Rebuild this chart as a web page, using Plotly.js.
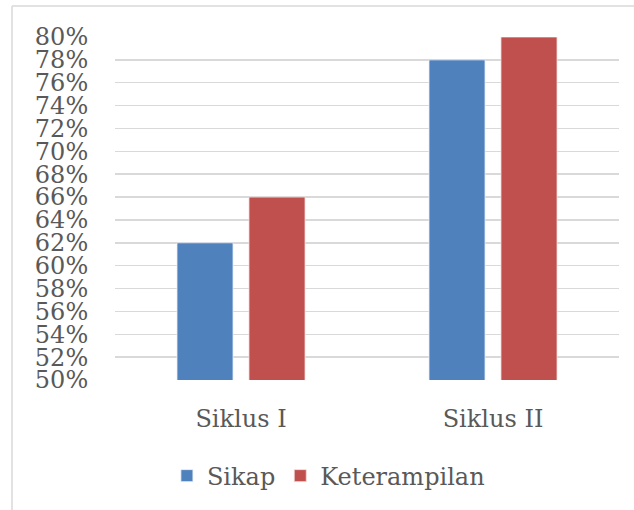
<!DOCTYPE html>
<html>
<head>
<meta charset="utf-8">
<script src="https://cdn.plot.ly/plotly-3.0.1.min.js"></script>
<style>
html,body{margin:0;padding:0;background:#fff;}
#chart{width:634px;height:510px;}
</style>
</head>
<body>
<div id="chart"></div>
<script>
var categories = ["Siklus I", "Siklus II"];
var sikap = [0.62, 0.78];
var keterampilan = [0.66, 0.80];
var seriesNames = ["Sikap", "Keterampilan"];
var yTickVals = [0.50,0.52,0.54,0.56,0.58,0.60,0.62,0.64,0.66,0.68,0.70,0.72,0.74,0.76,0.78,0.80];

var W = 634, H = 510;
var mL = 115, mR = 15, mT = 37, mB = 130;
var pw = W - mL - mR, ph = H - mT - mB;
var fontFam = "'DejaVu Serif', serif";
var txtCol = "#595959";
var fs = 24;

var traces = [
  {type: "bar", name: seriesNames[0], x: categories, y: sikap,
   marker: {color: "#4f81bd", line: {color: "#e8eef7", width: 0.8}}},
  {type: "bar", name: seriesNames[1], x: categories, y: keterampilan,
   marker: {color: "#c0504d", line: {color: "#f3dddc", width: 0.8}}}
];

var layout = {
  width: W, height: H,
  margin: {l: mL, r: mR, t: mT, b: mB, pad: 0},
  paper_bgcolor: "#ffffff", plot_bgcolor: "#ffffff",
  barmode: "group", bargap: 0.4286, bargroupgap: 0.222,
  font: {family: fontFam, color: txtCol, size: fs},
  showlegend: true,
  legend: {orientation: "h", x: 0.103, xanchor: "left", y: -0.28, yanchor: "middle",
           font: {family: fontFam, size: fs, color: txtCol}, traceorder: "normal",
           itemwidth: 30, tracegroupgap: 0},
  xaxis: {type: "category", showgrid: false, zeroline: false, showline: false,
          ticks: "outside", ticklen: 17, tickcolor: "rgba(0,0,0,0)",
          tickfont: {family: fontFam, size: fs, color: txtCol}},
  yaxis: {range: [0.5, 0.8], tickvals: yTickVals, tickformat: ".0%",
          showgrid: true, gridcolor: "#d9d9d9", gridwidth: 1.5, zeroline: false,
          showline: false, ticks: "outside", ticklen: 21, tickcolor: "rgba(0,0,0,0)",
          tickfont: {family: fontFam, size: fs, color: txtCol}},
  shapes: [
    {type: "line", xref: "paper", yref: "paper",
     x0: (12 - mL) / pw, x1: (12 - mL) / pw, y0: -(mB + 5) / ph, y1: (H - mB - 6) / ph,
     line: {color: "#d9d9d9", width: 1.5}},
    {type: "line", xref: "paper", yref: "paper",
     x0: (12 - mL) / pw, x1: (W + 5 - mL) / pw, y0: (H - mB - 6) / ph, y1: (H - mB - 6) / ph,
     line: {color: "#d9d9d9", width: 1.5}}
  ]
};

Plotly.newPlot("chart", traces, layout, {displayModeBar: false, staticPlot: true});
</script>
</body>
</html>
